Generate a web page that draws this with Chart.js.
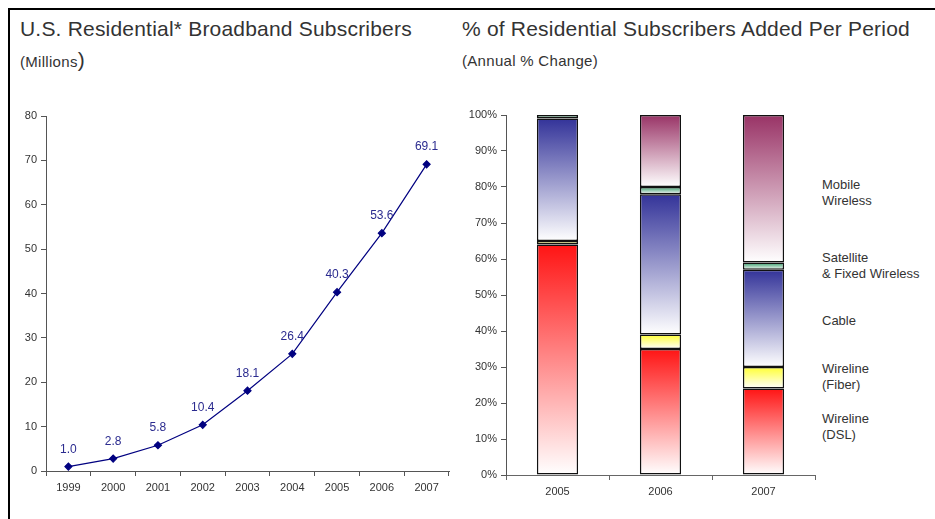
<!DOCTYPE html>
<html>
<head>
<meta charset="utf-8">
<script src="https://cdn.jsdelivr.net/npm/chart.js@4.4.1/dist/chart.umd.min.js"></script>
<style>
  html, body { margin: 0; padding: 0; background: #fff; }
  #page {
    position: relative; width: 935px; height: 519px; overflow: hidden;
    font-family: "Liberation Sans", Arial, sans-serif; color: #333;
  }
  .rule-top { position: absolute; left: 8px; top: 8px; width: 927px; height: 2px; background: #000; }
  .rule-left { position: absolute; left: 8px; top: 8px; width: 2px; height: 511px; background: #000; }
  .title { position: absolute; font-size: 21px; line-height: 1; white-space: nowrap; letter-spacing: 0.2px; }
  .sub { position: absolute; font-size: 15px; line-height: 1; white-space: nowrap; letter-spacing: 0.3px; }
  .sub .big { font-size: 21px; }
  .key { position: absolute; left: 822px; font-size: 13px; line-height: 16px; white-space: nowrap; color: #333; }
  canvas { position: absolute; }
</style>
</head>
<body>
<div id="page">
  <div class="rule-top"></div>
  <div class="rule-left"></div>

  <div class="title" style="left:20px; top:18px;">U.S. Residential* Broadband Subscribers</div>
  <div class="sub" style="left:20px; top:49px;">(Millions<span class="big">)</span></div>

  <div class="title" style="left:462px; top:18px;">% of Residential Subscribers Added Per Period</div>
  <div class="sub" style="left:462px; top:53px;">(Annual % Change)</div>

  <div class="key" style="top:177px;">Mobile<br>Wireless</div>
  <div class="key" style="top:250px;">Satellite<br>&amp; Fixed Wireless</div>
  <div class="key" style="top:313px;">Cable</div>
  <div class="key" style="top:361px;">Wireline<br>(Fiber)</div>
  <div class="key" style="top:411px;">Wireline<br>(DSL)</div>

  <canvas id="subsChart" style="left:12px; top:90px;" width="448" height="429"></canvas>
  <canvas id="shareChart" style="left:462px; top:90px;" width="473" height="429"></canvas>
</div>

<script>
// Subscribers, millions
const subscriberYears = ['1999', '2000', '2001', '2002', '2003', '2004', '2005', '2006', '2007'];
const subscriberMillions = [1.0, 2.8, 5.8, 10.4, 18.1, 26.4, 40.3, 53.6, 69.1];

// Share of subscribers added, by technology (percent)
const shareYears = ['2005', '2006', '2007'];
const dslShare = [64, 35, 24];
const fiberShare = [1, 4, 6];
const cableShare = [34, 39, 27];
const satelliteShare = [1, 2, 2];
const mobileShare = [0, 20, 41];

const FONT = '"Liberation Sans", Arial, sans-serif';
Chart.defaults.font.family = FONT;
Chart.defaults.color = '#333';
Chart.defaults.animation = false;

// Value labels above each point of the line
const pointLabels = {
  id: 'pointLabels',
  afterDatasetsDraw(chart) {
    const ctx = chart.ctx;
    const meta = chart.getDatasetMeta(0);
    const values = chart.data.datasets[0].data;
    ctx.save();
    ctx.font = '12px ' + FONT;
    ctx.fillStyle = '#2b2b8f';
    ctx.textAlign = 'center';
    ctx.textBaseline = 'alphabetic';
    meta.data.forEach((pt, i) => {
      ctx.fillText(values[i].toFixed(1), pt.x, pt.y - 14);
    });
    ctx.restore();
  }
};

new Chart(document.getElementById('subsChart'), {
  type: 'line',
  data: {
    labels: subscriberYears,
    datasets: [{
      data: subscriberMillions,
      borderColor: '#000080',
      borderWidth: 1.2,
      tension: 0,
      pointStyle: 'rectRot',
      pointRadius: 3.5,
      pointBackgroundColor: '#000080',
      pointBorderColor: '#000080',
      clip: false
    }]
  },
  options: {
    responsive: false,
    layout: { padding: { left: 0, right: 11, top: 26, bottom: 0 } },
    plugins: { legend: { display: false }, tooltip: { enabled: false } },
    scales: {
      x: {
        offset: true,
        grid: { offset: true, drawOnChartArea: false, tickLength: 5, color: '#555' },
        border: { display: true, color: '#555' },
        ticks: { font: { size: 11 }, color: '#333', padding: 5, maxRotation: 0 },
        afterFit(scale) { scale.height = 48; }
      },
      y: {
        min: 0, max: 80,
        grid: { drawOnChartArea: false, tickLength: 5, color: '#555' },
        border: { display: true, color: '#555' },
        ticks: { stepSize: 10, font: { size: 11 }, color: '#333', padding: 4 },
        afterFit(scale) { scale.width = 34; }
      }
    }
  },
  plugins: [pointLabels]
});

// Each stacked segment fades from its colour at the top to white at its base
function segmentFill(color) {
  return (ctx) => {
    const chart = ctx.chart;
    if (!chart.chartArea || ctx.type !== 'data') return color;
    const yScale = chart.scales.y;
    const i = ctx.dataIndex;
    let base = 0;
    for (let k = 0; k < ctx.datasetIndex; k++) base += chart.data.datasets[k].data[i] || 0;
    const top = base + (chart.data.datasets[ctx.datasetIndex].data[i] || 0);
    const yBase = yScale.getPixelForValue(base);
    const yTop = yScale.getPixelForValue(top);
    if (!isFinite(yBase) || !isFinite(yTop) || yBase === yTop) return color;
    const g = chart.ctx.createLinearGradient(0, yTop, 0, yBase);
    g.addColorStop(0, color);
    g.addColorStop(1, '#ffffff');
    return g;
  };
}

function segment(label, values, color) {
  return {
    label,
    data: values,
    backgroundColor: segmentFill(color),
    borderColor: '#111',
    borderWidth: 1.5,
    borderSkipped: false,
    barPercentage: 0.4,
    categoryPercentage: 1.0
  };
}

new Chart(document.getElementById('shareChart'), {
  type: 'bar',
  data: {
    labels: shareYears,
    datasets: [
      segment('Wireline (DSL)', dslShare, '#ff1414'),
      segment('Wireline (Fiber)', fiberShare, '#ffff33'),
      segment('Cable', cableShare, '#333399'),
      segment('Satellite & Fixed Wireless', satelliteShare, '#339966'),
      segment('Mobile Wireless', mobileShare, '#993366')
    ]
  },
  options: {
    responsive: false,
    layout: { padding: { left: 0, right: 120, top: 25, bottom: 0 } },
    plugins: { legend: { display: false }, tooltip: { enabled: false } },
    scales: {
      x: {
        stacked: true,
        grid: { offset: true, drawOnChartArea: false, tickLength: 5, color: '#666' },
        border: { display: true, color: '#666' },
        ticks: { font: { size: 11 }, color: '#333', padding: 5, maxRotation: 0 },
        afterFit(scale) { scale.height = 44; }
      },
      y: {
        stacked: true,
        min: 0, max: 100,
        grid: { drawOnChartArea: false, tickLength: 5, color: '#555' },
        border: { display: true, color: '#555' },
        ticks: { stepSize: 10, font: { size: 11 }, color: '#333', padding: 4,
                 callback: (v) => v + '%' },
        afterFit(scale) { scale.width = 44; }
      }
    }
  }
});
</script>
</body>
</html>
